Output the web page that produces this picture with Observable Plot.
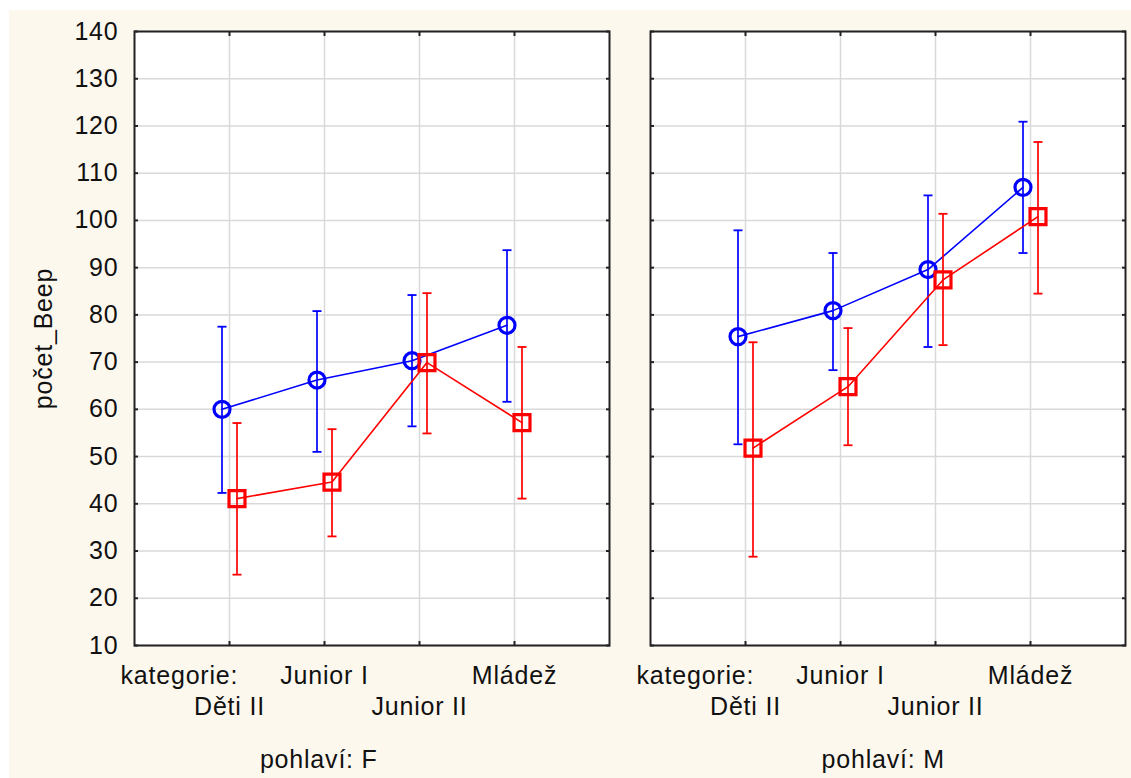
<!DOCTYPE html>
<html>
<head>
<meta charset="utf-8">
<script src="https://cdn.jsdelivr.net/npm/d3@7"></script>
<script src="https://cdn.jsdelivr.net/npm/@observablehq/plot@0.6"></script>
<style>
  html, body { margin: 0; padding: 0; background: #ffffff; }
  #wrap { position: relative; width: 1131px; height: 778px; overflow: hidden; }
  #bg { position: absolute; left: 9px; top: 10px; width: 1122px; height: 768px; background: #fdf8ee; }
  #chart { position: absolute; left: 0; top: 0; }
  #chart svg { background: transparent !important; }
  #chart svg text { letter-spacing: 0.8px; }
</style>
</head>
<body>
<div id="wrap"><div id="bg"></div><div id="chart"></div></div>
<script>
// ---- data ----
const categories = ["Děti II", "Junior I", "Junior II", "Mládež"];
const sexes = ["F", "M"];
const yTicks = [10, 20, 30, 40, 50, 60, 70, 80, 90, 100, 110, 120, 130, 140];
const yLabel = "počet_Beep";
const xPrefix = "kategorie:";
const facetLabels = ["pohlaví: F", "pohlaví: M"];

// blue series (circles)
const blueMeanF = [60.0, 66.2, 70.3, 77.8];
const blueLowF  = [42.3, 51.0, 56.4, 61.6];
const blueHighF = [77.5, 80.8, 84.2, 93.7];
const blueMeanM = [75.4, 80.9, 89.6, 107.0];
const blueLowM  = [52.6, 68.3, 73.2, 93.1];
const blueHighM = [97.9, 93.1, 105.3, 120.9];

// red series (squares)
const redMeanF = [41.1, 44.6, 69.9, 57.2];
const redLowF  = [25.0, 33.1, 54.9, 41.1];
const redHighF = [57.1, 55.8, 84.6, 73.2];
const redMeanM = [51.8, 64.8, 87.4, 100.8];
const redLowM  = [28.8, 52.4, 73.6, 84.5];
const redHighM = [74.2, 77.2, 101.4, 116.6];

// ---- build tables ----
function rowsFor(means, lows, highs, sex) {
  return categories.map((c, i) => ({sex, cat: c, x: i + 1, mean: means[i], lo: lows[i], hi: highs[i]}));
}
const blueRows = [...rowsFor(blueMeanF, blueLowF, blueHighF, "F"), ...rowsFor(blueMeanM, blueLowM, blueHighM, "M")];
const redRows  = [...rowsFor(redMeanF, redLowF, redHighF, "F"), ...rowsFor(redMeanM, redLowM, redHighM, "M")];

const catRow1 = categories.map((c, i) => ({c, x: i + 1})).filter((d, i) => i % 2 === 1);
const catRow2 = categories.map((c, i) => ({c, x: i + 1})).filter((d, i) => i % 2 === 0);
const facetLabelRows = [
  {sex: "F", t: facetLabels[0], x: 1.94},
  {sex: "M", t: facetLabels[1], x: 2.45}
];

const capSymbol = {
  draw(ctx, size) {
    const w = Math.sqrt(size / Math.PI);
    ctx.moveTo(-w, 0);
    ctx.lineTo(w, 0);
  }
};

const font = "'Liberation Sans', Arial, Helvetica, sans-serif";
const fs = 25;

function seriesMarks(rows, color, symbol, dx) {
  return [
    Plot.line(rows, {x: "x", y: "mean", fx: "sex", stroke: color, strokeWidth: 1.6, dx}),
    Plot.ruleX(rows, {x: "x", y1: "lo", y2: "hi", fx: "sex", stroke: color, strokeWidth: 1.7, dx}),
    Plot.dot(rows, {x: "x", y: "lo", fx: "sex", symbol: capSymbol, r: 4.5, stroke: color, strokeWidth: 1.8, dx}),
    Plot.dot(rows, {x: "x", y: "hi", fx: "sex", symbol: capSymbol, r: 4.5, stroke: color, strokeWidth: 1.8, dx}),
    Plot.dot(rows, {x: "x", y: "mean", fx: "sex", symbol, r: symbol === "square" ? 9 : 8, stroke: color, strokeWidth: 3.2, fill: "none", dx})
  ];
}

const chart = Plot.plot({
  width: 1131,
  height: 778,
  marginTop: 31,
  marginLeft: 134,
  marginRight: 5,
  marginBottom: 133,
  style: {fontFamily: font, fontSize: fs + "px", color: "#111", background: "transparent"},
  fx: {domain: sexes, paddingInner: 0.0794, paddingOuter: 0, axis: null},
  x: {domain: [0, 5], axis: null},
  y: {domain: [10, 140], axis: null},
  marks: [
    Plot.frame({fill: "white"}),
    Plot.gridY({ticks: yTicks, stroke: "#d9d9d9", strokeOpacity: 1, strokeWidth: 1.5}),
    Plot.gridX({ticks: [1, 2, 3, 4], stroke: "#d9d9d9", strokeOpacity: 1, strokeWidth: 1.5}),
    Plot.axisY({ticks: yTicks, anchor: "left", facetAnchor: null, tickSize: -4, text: null, label: null, stroke: "#222", strokeWidth: 2}),
    Plot.axisY({ticks: yTicks, anchor: "right", facetAnchor: null, tickSize: -4, text: null, label: null, stroke: "#222", strokeWidth: 2}),
    Plot.axisX({ticks: [1, 2, 3, 4], anchor: "bottom", facetAnchor: null, tickSize: -4, text: null, label: null, stroke: "#222", strokeWidth: 2}),
    Plot.axisX({ticks: [1, 2, 3, 4], anchor: "top", facetAnchor: null, tickSize: -4, text: null, label: null, stroke: "#222", strokeWidth: 2}),
    Plot.axisY({ticks: yTicks, anchor: "left", tickSize: 0, tickPadding: 16, fontSize: fs, fill: "#111", label: null}),
    Plot.frame({stroke: "#222", strokeWidth: 2}),
    ...seriesMarks(blueRows, "#0000ff", "circle", -7.5),
    ...seriesMarks(redRows, "#ff0000", "square", 7.5),
    Plot.text(catRow1, {x: "x", text: "c", frameAnchor: "bottom", dy: 38, fontSize: fs, fill: "#111"}),
    Plot.text(catRow2, {x: "x", text: "c", frameAnchor: "bottom", dy: 69, fontSize: fs, fill: "#111"}),
    Plot.text([xPrefix], {frameAnchor: "bottom-left", dx: -14, dy: 38, textAnchor: "start", fontSize: fs, fill: "#111"}),
    Plot.text(facetLabelRows, {x: "x", fx: "sex", text: "t", frameAnchor: "bottom", dy: 122, fontSize: fs, fill: "#111"}),
    Plot.text([{t: yLabel, sex: "F"}], {text: "t", fx: "sex", frameAnchor: "left", textAnchor: "middle", dx: -91, rotate: -90, fontSize: fs, fill: "#111"})
  ]
});
document.getElementById("chart").appendChild(chart);
</script>
</body>
</html>
